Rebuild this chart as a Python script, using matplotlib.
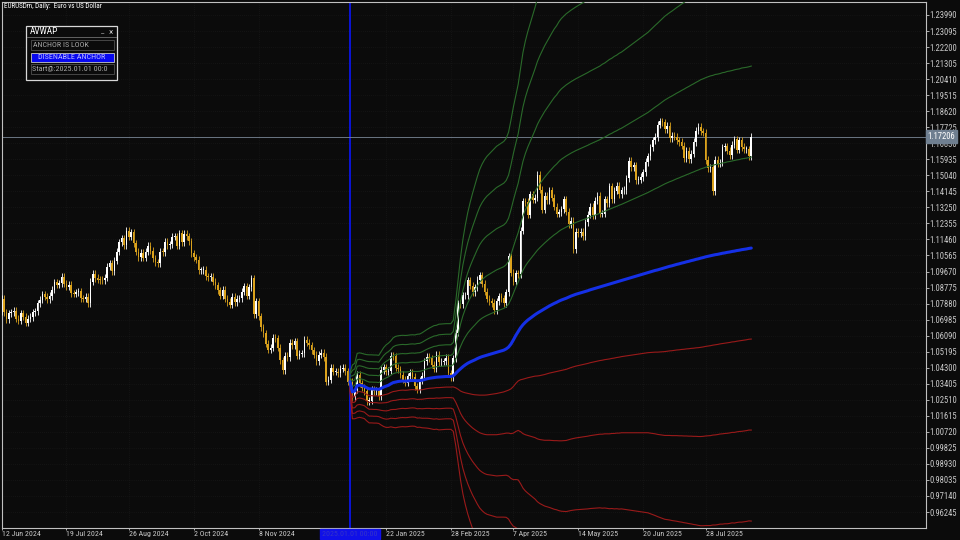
import numpy as np
import pandas as pd
import matplotlib
matplotlib.use("Agg")
import matplotlib.pyplot as plt
from matplotlib.patches import Rectangle
from matplotlib import font_manager as fm

# ---------------- data ----------------
symbol_title = "EURUSDm, Daily:  Euro vs US Dollar"
start_date = "2024-06-12"
first_open = 1.0742
closes = [
    1.0815, 1.0740, 1.0702,
    1.0735, 1.0740, 1.0748, 1.0703, 1.0692,
    1.0733, 1.0714, 1.0681, 1.0703, 1.0713,
    1.0740, 1.0745, 1.0790, 1.0810, 1.0840,
    1.0826, 1.0813, 1.0830, 1.0866, 1.0908,
    1.0894, 1.0902, 1.0939, 1.0898, 1.0882,
    1.0893, 1.0846, 1.0843, 1.0850, 1.0856,
    1.0818, 1.0815, 1.0826, 1.0790, 1.0910,
    1.0953, 1.0931, 1.0922, 1.0920, 1.0918,
    1.0933, 1.0994, 1.1012, 1.0968, 1.1028,
    1.1078, 1.1130, 1.1153, 1.1115, 1.1193,
    1.1161, 1.1186, 1.1125, 1.1077, 1.1047,
    1.1072, 1.1045, 1.1078, 1.1112, 1.1083,
    1.1041, 1.1018, 1.1012, 1.1076, 1.1075,
    1.1132, 1.1113, 1.1118, 1.1161, 1.1163,
    1.1111, 1.1180, 1.1132, 1.1179, 1.1163,
    1.1135, 1.1068, 1.1047, 1.1033, 1.0975,
    1.0975, 1.0978, 1.0940, 1.0936, 1.0937,
    1.0910, 1.0890, 1.0862, 1.0831, 1.0866,
    1.0815, 1.0797, 1.0782, 1.0827, 1.0797,
    1.0815, 1.0817, 1.0855, 1.0884, 1.0833,
    1.0880, 1.0930, 1.0728, 1.0802, 1.0718,
    1.0655, 1.0622, 1.0564, 1.0530, 1.0541,
    1.0598, 1.0595, 1.0542, 1.0471, 1.0416,
    1.0495, 1.0488, 1.0570, 1.0555, 1.0577,
    1.0498, 1.0509, 1.0511, 1.0586, 1.0569,
    1.0555, 1.0528, 1.0502, 1.0467, 1.0502,
    1.0512, 1.0490, 1.0352, 1.0362, 1.0430,
    1.0408, 1.0408, 1.0400, 1.0425, 1.0430,
    1.0410, 1.0353, 1.0352, 1.0265, 1.0307,
    1.0390, 1.0342, 1.0318, 1.0300, 1.0244,
    1.0245, 1.0307, 1.0298, 1.0300, 1.0272,
    1.0417, 1.0433, 1.0408, 1.0413, 1.0496,
    1.0494, 1.0431, 1.0422, 1.0391, 1.0362,
    1.0346, 1.0382, 1.0403, 1.0381, 1.0327,
    1.0308, 1.0361, 1.0385, 1.0466, 1.0492,
    1.0482, 1.0447, 1.0424, 1.0503, 1.0460,
    1.0464, 1.0466, 1.0484, 1.0398, 1.0376,
    1.0482, 1.0625, 1.0789, 1.0784, 1.0834,
    1.0834, 1.0918, 1.0888, 1.0851, 1.0880,
    1.0921, 1.0945, 1.0900, 1.0855, 1.0816,
    1.0802, 1.0791, 1.0752, 1.0800, 1.0829,
    1.0817, 1.0791, 1.0851, 1.1051, 1.0960,
    1.0910, 1.0957, 1.0951, 1.1195, 1.1360,
    1.1355, 1.1284, 1.1398, 1.1367, 1.1380,
    1.1508, 1.1423, 1.1313, 1.1390, 1.1365,
    1.1420, 1.1380, 1.1328, 1.1290, 1.1298,
    1.1315, 1.1370, 1.1300, 1.1230, 1.1250,
    1.1090, 1.1190, 1.1180, 1.1190, 1.1163,
    1.1243, 1.1285, 1.1330, 1.1280, 1.1362,
    1.1390, 1.1290, 1.1290, 1.1370, 1.1347,
    1.1442, 1.1370, 1.1418, 1.1445, 1.1397,
    1.1420, 1.1422, 1.1487, 1.1585, 1.1550,
    1.1560, 1.1478, 1.1480, 1.1495, 1.1522,
    1.1578, 1.1610, 1.1660, 1.1700, 1.1718,
    1.1787, 1.1805, 1.1800, 1.1760, 1.1780,
    1.1710, 1.1725, 1.1720, 1.1700, 1.1690,
    1.1670, 1.1600, 1.1640, 1.1595, 1.1625,
    1.1690, 1.1752, 1.1775, 1.1750, 1.1742,
    1.1590, 1.1545, 1.1550, 1.1415, 1.1590,
    1.1570, 1.1575, 1.1660, 1.1665, 1.1642,
    1.1615, 1.1675, 1.1705, 1.1648, 1.1700,
    1.1662, 1.1650, 1.1650, 1.1610, 1.1720,
]
wick = 0.0020  # drawn wick extension beyond the body

anchor_date = "2025-01-01"
anchor_text = "2025.01.01 00:00"
vwap = [
    1.0352, 1.0295, 1.0300, 1.0330, 1.0333, 1.0330, 1.0326, 1.0318, 1.0312, 1.0312,
    1.0311, 1.0311, 1.0309, 1.0315, 1.0322, 1.0327, 1.0332, 1.0340, 1.0347, 1.0350,
    1.0353, 1.0355, 1.0356, 1.0355, 1.0356, 1.0358, 1.0359, 1.0358, 1.0357, 1.0358,
    1.0360, 1.0364, 1.0368, 1.0371, 1.0373, 1.0375, 1.0377, 1.0378, 1.0379, 1.0380,
    1.0381, 1.0381, 1.0381, 1.0385, 1.0398, 1.0412, 1.0424, 1.0436, 1.0446, 1.0455,
    1.0462, 1.0468, 1.0474, 1.0481, 1.0487, 1.0492, 1.0496, 1.0500, 1.0504, 1.0508,
    1.0512, 1.0516, 1.0520, 1.0524, 1.0528, 1.0535, 1.0545, 1.0562, 1.0585, 1.0610,
    1.0632, 1.0653, 1.0670, 1.0684, 1.0696, 1.0706, 1.0716, 1.0726, 1.0735, 1.0743,
    1.0751, 1.0759, 1.0767, 1.0775, 1.0782, 1.0789, 1.0795, 1.0802, 1.0808, 1.0813,
    1.0818, 1.0824, 1.0830, 1.0835, 1.0840, 1.0844, 1.0848, 1.0852, 1.0856, 1.0860,
    1.0865, 1.0869, 1.0873, 1.0877, 1.0881, 1.0885, 1.0889, 1.0893, 1.0897, 1.0901,
    1.0905, 1.0909, 1.0913, 1.0917, 1.0921, 1.0925, 1.0929, 1.0933, 1.0937, 1.0941,
    1.0945, 1.0949, 1.0953, 1.0957, 1.0961, 1.0965, 1.0969, 1.0973, 1.0976, 1.0980,
    1.0984, 1.0988, 1.0992, 1.0996, 1.0999, 1.1003, 1.1007, 1.1010, 1.1014, 1.1017,
    1.1021, 1.1024, 1.1028, 1.1031, 1.1035, 1.1038, 1.1042, 1.1045, 1.1049, 1.1052,
    1.1055, 1.1058, 1.1061, 1.1063, 1.1066, 1.1069, 1.1071, 1.1074, 1.1076, 1.1079,
    1.1081, 1.1084, 1.1086, 1.1089, 1.1091, 1.1093, 1.1096, 1.1098,
]
sigma = [
    0.0010, 0.0030, 0.0031, 0.0036, 0.0036, 0.0036, 0.0036, 0.0037, 0.0038, 0.0038,
    0.0038, 0.0038, 0.0038, 0.0041, 0.0044, 0.0046, 0.0047, 0.0048, 0.0050, 0.0051,
    0.0051, 0.0051, 0.0051, 0.0051, 0.0051, 0.0051, 0.0051, 0.0051, 0.0052, 0.0052,
    0.0053, 0.0054, 0.0055, 0.0056, 0.0057, 0.0058, 0.0058, 0.0059, 0.0059, 0.0059,
    0.0059, 0.0059, 0.0059, 0.0062, 0.0080, 0.0102, 0.0124, 0.0142, 0.0156, 0.0168,
    0.0178, 0.0187, 0.0195, 0.0203, 0.0210, 0.0215, 0.0219, 0.0222, 0.0224, 0.0226,
    0.0228, 0.0230, 0.0231, 0.0232, 0.0233, 0.0235, 0.0240, 0.0250, 0.0260, 0.0268,
    0.0276, 0.0290, 0.0304, 0.0314, 0.0322, 0.0329, 0.0336, 0.0343, 0.0351, 0.0357,
    0.0362, 0.0367, 0.0371, 0.0375, 0.0379, 0.0383, 0.0386, 0.0390, 0.0393, 0.0395,
    0.0397, 0.0398, 0.0399, 0.0400, 0.0401, 0.0402, 0.0403, 0.0404, 0.0405, 0.0406,
    0.0407, 0.0408, 0.0409, 0.0410, 0.0411, 0.0413, 0.0414, 0.0416, 0.0418, 0.0419,
    0.0421, 0.0422, 0.0424, 0.0425, 0.0427, 0.0429, 0.0431, 0.0433, 0.0435, 0.0437,
    0.0439, 0.0441, 0.0443, 0.0445, 0.0447, 0.0450, 0.0453, 0.0456, 0.0459, 0.0462,
    0.0465, 0.0468, 0.0470, 0.0472, 0.0474, 0.0476, 0.0478, 0.0480, 0.0482, 0.0484,
    0.0486, 0.0488, 0.0490, 0.0492, 0.0494, 0.0496, 0.0498, 0.0499, 0.0500, 0.0501,
    0.0502, 0.0502, 0.0503, 0.0503, 0.0503, 0.0504, 0.0504, 0.0505, 0.0505, 0.0505,
    0.0506, 0.0506, 0.0506, 0.0507, 0.0507, 0.0507, 0.0507, 0.0508,
]
band_mult = [1, 2, 3, 4, 5]

x_tick_dates = ["2024-06-12", "2024-07-19", "2024-08-26", "2024-10-02", "2024-11-08",
                "2025-01-22", "2025-02-28", "2025-04-07", "2025-05-14", "2025-06-20", "2025-07-28"]
x_tick_labels = ["12 Jun 2024", "19 Jul 2024", "26 Aug 2024", "2 Oct 2024", "8 Nov 2024",
                 "22 Jan 2025", "28 Feb 2025", "7 Apr 2025", "14 May 2025", "20 Jun 2025", "28 Jul 2025"]
y_tick_labels = ["0.96245", "0.97140", "0.98035", "0.98930", "0.99825", "1.00720", "1.01615",
                 "1.02510", "1.03405", "1.04300", "1.05195", "1.06090", "1.06985", "1.07880",
                 "1.08775", "1.09670", "1.10565", "1.11460", "1.12355", "1.13250", "1.14145",
                 "1.15040", "1.15935", "1.16830", "1.17725", "1.18620", "1.19515", "1.20410",
                 "1.21305", "1.22200", "1.23095", "1.23990"]
last_price = 1.17206

panel_title = "AVWAP"
panel_buttons = ["ANCHOR IS LOOK", "DISENABLE ANCHOR", "Start@:2025.01.01 00:0"]

# ---------------- fonts ----------------
def find_narrow():
    cands = [("Liberation Sans Narrow", "normal"), ("Roboto Condensed", "normal"),
             ("Roboto", "condensed"), ("Open Sans", "condensed"),
             ("Noto Sans", "condensed"), ("DejaVu Sans", "condensed")]
    for fam, st in cands:
        try:
            path = fm.findfont(fm.FontProperties(family=fam, stretch=st), fallback_to_default=False)
        except Exception:
            continue
        low = path.lower()
        if "narrow" in low or "condensed" in low:
            return fam, st
    return None

narrow = find_narrow()
if narrow:
    FAM, STRETCH, SC = narrow[0], narrow[1], 1.2
else:
    FAM, STRETCH, SC = "Liberation Sans", "normal", 1.0
plt.rcParams["font.family"] = [FAM, "DejaVu Sans"]
plt.rcParams["font.stretch"] = STRETCH

# ---------------- styling ----------------
BG = "#0b0b0b"
FG = "#c8c8c8"
BULL = "#ffffff"
BEAR = "#dba21c"
GREEN = "#2a6a2a"
RED = "#9a1a1a"
VWAP_C = "#1530e6"

W, H = 960, 540
fig = plt.figure(figsize=(9.6, 5.4), dpi=100, facecolor=BG)

left_px, right_px, top_px, bot_px = 1.5, 925.6, 1.5, 528.0
ax = fig.add_axes([left_px / W, 1 - bot_px / H, (right_px - left_px) / W, (bot_px - top_px) / H])
ax.set_facecolor(BG)

dates = pd.bdate_range(start_date, periods=len(closes))
n = len(closes)
xi = np.arange(n)
c = np.array(closes)
o = np.concatenate([[first_open], c[:-1]])
hi = np.maximum(o, c) + wick
lo = np.minimum(o, c) - wick
up = c >= o
col = np.where(up, BULL, BEAR)

ax.vlines(xi, lo, hi, colors=col, linewidth=0.6, zorder=3)
body_h = np.maximum(np.abs(c - o), 0.0004)
ax.bar(xi, body_h, bottom=np.minimum(o, c), width=0.66, color=col, linewidth=0, zorder=3)

# AVWAP and bands
a0 = int(np.where(dates == pd.Timestamp(anchor_date))[0][0])
va = np.array(vwap)
sa = np.array(sigma)
xa = np.arange(a0, a0 + len(va))
for k in band_mult:
    ax.plot(xa, va + k * sa, color=GREEN, lw=0.8, zorder=4)
    ax.plot(xa, va - k * sa, color=RED, lw=0.8, zorder=4)
ax.plot(xa, va, color=VWAP_C, lw=2.2, zorder=5, solid_capstyle="round")

# anchor vertical line
ax.axvline(a0, color="#0a14d8", lw=1.4, zorder=2)

# current price line
ax.axhline(last_price, color="#7a8796", lw=0.6, zorder=2)

# axes scale
xmin = 0.3
xmax = xmin + (right_px - left_px) / 2.405
ppu = 1791.4
ax.set_xlim(xmin, xmax)
ax.set_ylim(1.2399 - (bot_px - 15) / ppu, 1.2399 + (15 - top_px) / ppu)

yt = [float(s) for s in y_tick_labels]
ax.yaxis.tick_right()
ax.set_yticks(yt)
ax.set_yticklabels(y_tick_labels)
xt = [int(np.where(dates == pd.Timestamp(d))[0][0]) for d in x_tick_dates]
ax.set_xticks(xt)
ax.set_xticklabels(x_tick_labels, ha="left")
ax.tick_params(axis="y", colors=FG, labelcolor=FG, labelsize=5.2 * SC, length=2.0, width=0.6, pad=0.6)
ax.tick_params(axis="x", colors=FG, labelcolor=FG, labelsize=4.7 * SC, length=1.6, width=0.6, pad=0.4)
for s in ax.spines.values():
    s.set_color("#c0c0c0")
    s.set_linewidth(0.8)
ax.grid(True, color="#1c1c1c", lw=0.5, linestyle=(0, (1, 2)), zorder=0)

# price label on the right axis
ax.annotate(f"{last_price:.5f}", xy=(1.0, last_price), xycoords=("axes fraction", "data"),
            xytext=(1.5, 0), textcoords="offset points", ha="left", va="center",
            fontsize=5.2 * SC, color="#ffffff",
            bbox=dict(boxstyle="square,pad=0.2", fc="#6f7f90", ec="#6f7f90"), zorder=10,
            annotation_clip=False)

# anchor label on time axis
ax.annotate(anchor_text, xy=(a0, 0), xycoords=("data", "axes fraction"),
            xytext=(0, -4.0), textcoords="offset points", ha="center", va="center",
            fontsize=4.7 * SC, color="#3434c8",
            bbox=dict(boxstyle="square,pad=0.25", fc="#1010e8", ec="#1010e8"), zorder=10,
            annotation_clip=False)

# ---------------- overlay (pixel coordinates) ----------------
ov = fig.add_axes([0, 0, 1, 1], facecolor="none")
ov.set_xlim(0, W)
ov.set_ylim(H, 0)
ov.axis("off")
ov.set_zorder(20)

ov.text(3.5, 6, symbol_title, color="#ffffff", fontsize=4.3 * SC, va="center", ha="left")

# panel
ov.add_patch(Rectangle((26, 26), 91, 54, fc="#0b0b0b", ec="#d8d8d8", lw=0.9))
ov.text(29.5, 32, panel_title, color="#ffffff", fontsize=5.6 * SC, va="center", ha="left")
ov.text(100.5, 31, "_", color="#c0c0c0", fontsize=5 * SC, va="center", ha="left")
ov.text(108.5, 32, "\u00d7", color="#c0c0c0", fontsize=5.5 * SC, va="center", ha="left")
ov.plot([27, 116], [37, 37], color="#707070", lw=0.6)
ov.add_patch(Rectangle((30.5, 40), 83, 10, fc="#0b0b0b", ec="#505050", lw=0.6))
ov.text(33, 45.2, panel_buttons[0], color="#a8a8a8", fontsize=4.8 * SC, va="center", ha="left")
ov.add_patch(Rectangle((30.5, 52.5), 83, 9, fc="#0808f0", ec="#c8c8c8", lw=0.6))
ov.text(38, 57.2, panel_buttons[1], color="#b8b8ff", fontsize=4.9 * SC, va="center", ha="left")
ov.add_patch(Rectangle((30.5, 64), 83, 10, fc="#0b0b0b", ec="#505050", lw=0.6))
t = ov.text(32, 69.2, panel_buttons[2], color="#a8a8a8", fontsize=4.9 * SC, va="center", ha="left")
t.set_clip_path(Rectangle((30.5, 64), 83, 10, transform=ov.transData))

fig.savefig("out.png", dpi=100, facecolor=BG)
